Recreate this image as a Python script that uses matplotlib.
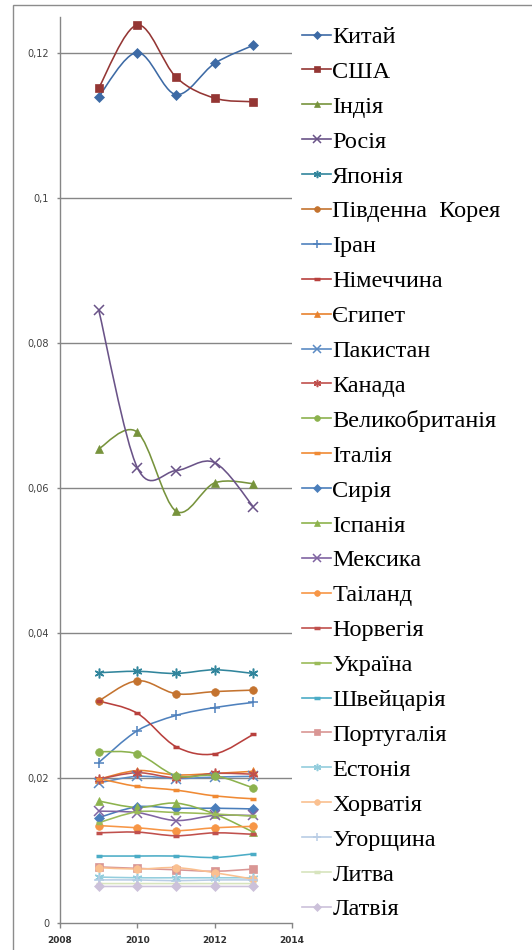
import matplotlib
matplotlib.use('Agg')
import matplotlib.pyplot as plt
from matplotlib.path import Path
from matplotlib.patches import PathPatch, Rectangle
from matplotlib.lines import Line2D
from matplotlib.ticker import FixedLocator, FuncFormatter

# дані (роки та частки країн)
years = [2009, 2010, 2011, 2012, 2013]

china = [0.1140, 0.1201, 0.1143, 0.1186, 0.1211]
usa = [0.1152, 0.1239, 0.1167, 0.1138, 0.1133]
india = [0.0654, 0.0677, 0.0568, 0.0607, 0.0606]
russia = [0.0846, 0.0628, 0.0624, 0.0635, 0.0574]
japan = [0.0345, 0.0347, 0.0344, 0.0349, 0.0344]
korea = [0.0306, 0.0334, 0.0316, 0.0319, 0.0321]
iran = [0.0221, 0.0265, 0.0286, 0.0297, 0.0304]
germany = [0.0306, 0.0289, 0.0243, 0.0233, 0.0260]
egypt = [0.0198, 0.0210, 0.0204, 0.0206, 0.0209]
pakistan = [0.0193, 0.0202, 0.0199, 0.0201, 0.0202]
canada = [0.0198, 0.0207, 0.0200, 0.0206, 0.0205]
uk = [0.0236, 0.0233, 0.0203, 0.0203, 0.0186]
italy = [0.0199, 0.0188, 0.0183, 0.0175, 0.0171]
syria = [0.0145, 0.0160, 0.0158, 0.0158, 0.0157]
spain = [0.0168, 0.0159, 0.0165, 0.0150, 0.0125]
mexico = [0.0154, 0.0152, 0.0141, 0.0148, 0.0148]
thailand = [0.0134, 0.0131, 0.0127, 0.0131, 0.0133]
norway = [0.0124, 0.0125, 0.0120, 0.0124, 0.0122]
ukraine = [0.0138, 0.0153, 0.0152, 0.0150, 0.0147]
switzerland = [0.0092, 0.0092, 0.0092, 0.0090, 0.0095]
portugal = [0.0077, 0.0075, 0.0073, 0.0071, 0.0074]
estonia = [0.0063, 0.0062, 0.0062, 0.0062, 0.0062]
croatia = [0.0076, 0.0074, 0.0076, 0.0069, 0.0060]
hungary = [0.0059, 0.0059, 0.0058, 0.0059, 0.0059]
lithuania = [0.0054, 0.0054, 0.0054, 0.0054, 0.0054]
latvia = [0.0050, 0.0050, 0.0050, 0.0050, 0.0050]

countries = ['Китай', 'США', 'Індія', 'Росія', 'Японія', 'Південна  Корея',
             'Іран', 'Німеччина', 'Єгипет', 'Пакистан', 'Канада',
             'Великобританія', 'Італія', 'Сирія', 'Іспанія', 'Мексика',
             'Таіланд', 'Норвегія', 'Україна', 'Швейцарія', 'Португалія',
             'Естонія', 'Хорватія', 'Угорщина', 'Литва', 'Латвія']
series = [china, usa, india, russia, japan, korea, iran, germany, egypt,
          pakistan, canada, uk, italy, syria, spain, mexico, thailand, norway,
          ukraine, switzerland, portugal, estonia, croatia, hungary,
          lithuania, latvia]

star = (6, 2, 0)  # зірочка як в Excel
colors = ['#3D6AA5', '#943634', '#77933C', '#6A5388', '#31859C', '#C4732F',
          '#4F81BD', '#B8403D', '#E8822E', '#5B8BC4', '#C0504D', '#8CB24E',
          '#F08A34', '#4A7EBB', '#8DB34D', '#8064A2', '#F79646', '#C0504D',
          '#9BBB59', '#4BACC6', '#D99694', '#93CDDD', '#FAC090', '#B9CDE5',
          '#D7E4BD', '#CCC1DA']
markers = ['D', 's', '^', 'x', star, 'o', '+', '_', '^', 'x', star, 'o',
           '_', 'D', '^', 'x', 'o', '_', '_', '_', 's', star, 'o', '+',
           '_', 'D']


def smooth_path(xs, ys, t=1.0 / 6):
    # згладжена лінія як в Excel (кубічні криві Безьє)
    pts = list(zip(xs, ys))
    verts = [pts[0]]
    codes = [Path.MOVETO]
    n = len(pts)
    for i in range(n - 1):
        p0 = pts[i - 1] if i > 0 else pts[i]
        p1 = pts[i]
        p2 = pts[i + 1]
        p3 = pts[i + 2] if i + 2 < n else pts[i + 1]
        c1 = (p1[0] + (p2[0] - p0[0]) * t, p1[1] + (p2[1] - p0[1]) * t)
        c2 = (p2[0] - (p3[0] - p1[0]) * t, p2[1] - (p3[1] - p1[1]) * t)
        verts += [c1, c2, p2]
        codes += [Path.CURVE4] * 3
    return Path(verts, codes)


fig = plt.figure(figsize=(5.32, 9.5), dpi=100)
ax = fig.add_axes([60 / 532, 27.3 / 950, 232 / 532, 905.7 / 950])

handles = []
for name, vals, c, m in zip(countries, series, colors, markers):
    ax.add_patch(PathPatch(smooth_path(years, vals), fill=False,
                           edgecolor=c, lw=1.15, zorder=2))
    if m == '_':
        ms, mew = 5, 2.5
    elif m in ('x', '+') or m == star:
        ms, mew = 7, 1.1
    elif m == 'D':
        ms, mew = 5, 0.5
    else:
        ms, mew = 5.5, 0.5
    ax.plot(years, vals, ls='none', marker=m, color=c, ms=ms, mew=mew,
            zorder=3)
    handles.append(Line2D([], [], color=c, lw=1.2, marker=m,
                          ms=ms * 0.75, mew=mew))

ax.set_xlim(2008, 2014)
ax.set_ylim(0, 0.125)
ax.xaxis.set_major_locator(FixedLocator([2008, 2010, 2012, 2014]))
ax.yaxis.set_major_locator(FixedLocator([0, 0.02, 0.04, 0.06, 0.08, 0.1, 0.12]))
ax.yaxis.set_major_formatter(FuncFormatter(
    lambda v, p: ('%g' % round(v, 2)).replace('.', ',')))
for v in [0.02, 0.04, 0.06, 0.08, 0.1, 0.12]:
    ax.axhline(v, color='#868686', lw=1, zorder=1)

for s in ['top', 'right']:
    ax.spines[s].set_visible(False)
for s in ['left', 'bottom']:
    ax.spines[s].set_color('#868686')
    ax.spines[s].set_linewidth(1)
ax.tick_params(axis='y', direction='out', length=2.4, width=1,
               color='#868686', labelsize=7, labelcolor='#404040', pad=5.5)
ax.tick_params(axis='x', direction='out', length=3.6, width=1,
               color='#868686', labelsize=6.5, labelcolor='#303030', pad=6)
for lab in ax.get_xticklabels():
    lab.set_fontweight('bold')

fig.legend(handles, countries, loc='upper left',
           bbox_to_anchor=(302 / 532, 1 - 26 / 950),
           frameon=False, prop={'family': 'Liberation Serif', 'size': 17.5},
           handlelength=1.2, handletextpad=0.05, labelspacing=0.53,
           borderpad=0, borderaxespad=0)

fig.patches.append(Rectangle((13 / 532, -0.1), 1.2, 0.1 + 945 / 950,
                             transform=fig.transFigure, fill=False,
                             edgecolor='#8C8C8C', lw=1))

plt.savefig('out.png', dpi=100)
